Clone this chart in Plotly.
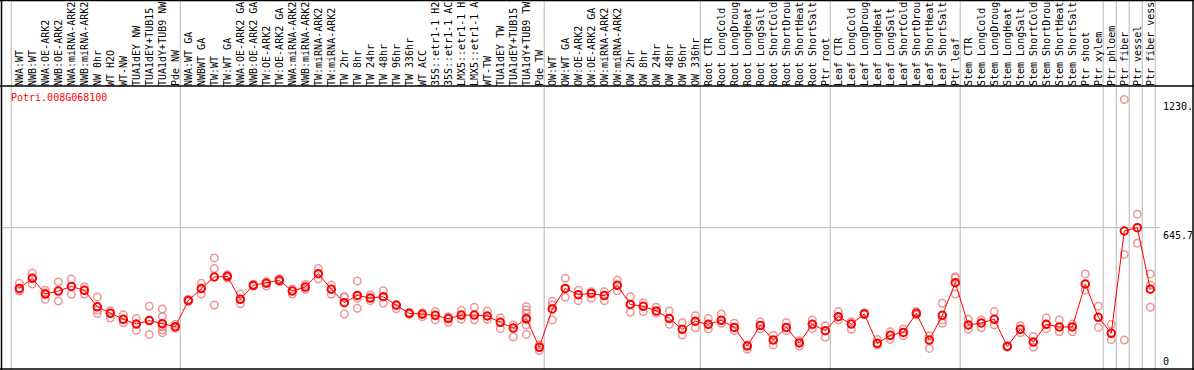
import plotly.graph_objects as go

title = "Potri.008G068100"

labels = [
    "NWA:WT", "NWB:WT", "NWA:OE-ARK2", "NWB:OE-ARK2", "NWA:miRNA-ARK2", "NWB:miRNA-ARK2",
    "NW 0hr", "WT H2O", "WT-NW", "TUA1dEY NW", "TUA1dEY+TUB15 NW", "TUA1dY+TUB9 NW", "Pde NW",
    "NWA:WT GA", "NWBWT GA", "TW:WT", "TW:WT GA", "NWA:OE-ARK2 GA", "NWB:OE-ARK2 GA",
    "TW:OE-ARK2", "TW:OE-ARK2 GA", "NWA:miRNA-ARK2", "NWB:miRNA-ARK2", "TW:miRNA-ARK2",
    "TW:miRNA-ARK2", "TW 2hr", "TW 8hr", "TW 24hr", "TW 48hr", "TW 96hr", "TW 336hr", "WT ACC",
    "35S::etr1-1 H2O", "35S::etr1-1 ACC", "LMX5::etr1-1 H2O", "LMX5::etr1-1 ACC", "WT-TW",
    "TUA1dEY TW", "TUA1dEY+TUB15 TW", "TUA1dY+TUB9 TW", "Pde TW",
    "OW:WT", "OW:WT GA", "OW:OE-ARK2", "OW:OE-ARK2 GA", "OW:miRNA-ARK2", "OW:miRNA-ARK2",
    "OW 2hr", "OW 8hr", "OW 24hr", "OW 48hr", "OW 96hr", "OW 336hr",
    "Root CTR", "Root LongCold", "Root LongDrought", "Root LongHeat", "Root LongSalt",
    "Root ShortCold", "Root ShortDrought", "Root ShortHeat", "Root ShortSalt", "Ptr root",
    "Leaf CTR", "Leaf LongCold", "Leaf LongDrought", "Leaf LongHeat", "Leaf LongSalt",
    "Leaf ShortCold", "Leaf ShortDrought", "Leaf ShortHeat", "Leaf ShortSalt", "Ptr leaf",
    "Stem CTR", "Stem LongCold", "Stem LongDrought", "Stem LongHeat", "Stem LongSalt",
    "Stem ShortCold", "Stem ShortDrought", "Stem ShortHeat", "Stem ShortSalt", "Ptr shoot",
    "Ptr xylem", "Ptr phloem", "Ptr fiber", "Ptr vessel", "Ptr fiber vessel",
]

means = [
    368, 414, 342, 356, 377, 359, 284, 254, 227, 205, 221, 207, 193,
    313, 367, 420, 423, 318, 382, 392, 405, 356, 374, 435, 364, 303, 336, 324, 330, 291,
    254, 250, 245, 230, 246, 246, 242, 213, 187, 230, 99,
    274, 368, 339, 345, 335, 382, 295, 286, 265, 231, 181, 218,
    204, 222, 190, 105, 199, 132, 190, 119, 204, 175,
    239, 205, 251, 117, 154, 167, 254, 132, 245, 394,
    201, 210, 227, 103, 181, 123, 204, 192, 192, 388, 236,
    163, 630, 645, 364,
]

replicates = [
    [391, 356, 358], [438, 388, 416], [360, 318, 348], [397, 310], [411, 341], [376, 342],
    [329, 269, 254], [266, 233], [248, 211], [230, 177], [286, 221, 158],
    [274, 239, 209, 193, 178, 166], [204, 186],
    [318, 308], [391, 342], [507, 459, 292], [430, 415], [342, 298], [386, 378], [398, 379],
    [412, 398], [365, 342], [386, 364], [459, 412], [383, 341], [327, 330, 251],
    [402, 323, 277], [338, 312], [357, 300], [295, 275], [258, 250], [257, 239], [263, 224],
    [239, 213], [268, 227], [282, 225], [265, 227], [234, 184], [201, 147],
    [284, 269, 254, 224, 201, 158], [110, 84],
    [309, 292, 224], [414, 327], [360, 312], [353, 323], [353, 312], [406, 357], [330, 259],
    [303, 262], [282, 257], [265, 204], [211, 155], [243, 188],
    [230, 183], [251, 209], [209, 175], [110, 90], [214, 184], [154, 110], [211, 175],
    [129, 105], [224, 184], [198, 145],
    [262, 224], [216, 181], [257, 250], [135, 110], [170, 135], [183, 152], [262, 246],
    [151, 94], [300, 224, 209], [421, 415, 342],
    [227, 181], [224, 188], [262, 201], [106, 100], [198, 166], [147, 99], [233, 184],
    [224, 170], [205, 170], [434, 360], [287, 190],
    [204, 134], [1230.4, 523, 132], [707, 574], [434, 383, 282],
]

group_last = [12, 40, 52, 62, 72, 83, 84, 85, 86, 87]
y_ticks = [0, 645.7, 1230.4]
y_tick_text = ["0", "645.7", "1230."]

# geometry
W, H = 1194, 370
L, R, T, B = 1, 1193, 86, 369
ymax = 1230.4 * 1.05
x0_px, step_px = 19.3, 13.0
xr = [(L - x0_px) / step_px, (R - x0_px) / step_px]


def px(x):
    return (x - L) / (R - L)


def py(y):
    return (B - y) / (B - T)


xs = list(range(len(labels)))
rx, ry = [], []
for i, reps in enumerate(replicates):
    for v in reps:
        rx.append(i)
        ry.append(v)

fig = go.Figure()
fig.add_trace(go.Scatter(
    x=rx, y=ry, mode="markers",
    marker=dict(symbol="circle-open", size=7.5, color="rgba(236,130,130,0.85)",
                line=dict(width=1.5, color="rgba(236,130,130,0.85)")),
    hoverinfo="skip", showlegend=False,
))
fig.add_trace(go.Scatter(
    x=xs, y=means, mode="lines+markers",
    line=dict(color="#ff0000", width=1),
    marker=dict(symbol="circle-open", size=7.5, color="#ff0000",
                line=dict(width=2, color="#ee0000")),
    showlegend=False,
))

shapes = []
grid_col = "#c4c4c4"
vlines = [-0.62] + [g + 0.38 for g in group_last]
for gx in vlines:
    shapes.append(dict(type="line", xref="x", yref="paper", x0=gx, x1=gx,
                       y0=-0.01, y1=py(-2), line=dict(color=grid_col, width=1.2), layer="below"))
shapes.append(dict(type="line", xref="x", yref="y", x0=xr[0], x1=(1160 - x0_px) / step_px,
                   y0=645.7, y1=645.7, line=dict(color=grid_col, width=1.2), layer="below"))
# frame
blk = dict(color="black", width=1.5)
shapes += [
    dict(type="line", xref="paper", yref="paper", x0=px(0), x1=px(W), y0=py(0.5), y1=py(0.5), line=blk),
    dict(type="line", xref="paper", yref="paper", x0=px(0), x1=px(W), y0=py(86), y1=py(86), line=blk),
    dict(type="line", xref="paper", yref="paper", x0=px(0), x1=px(W), y0=py(369), y1=py(369), line=blk),
    dict(type="line", xref="paper", yref="paper", x0=px(1.5), x1=px(1.5), y0=py(0), y1=py(370), line=blk),
    dict(type="line", xref="paper", yref="paper", x0=px(1193), x1=px(1193), y0=py(0), y1=py(370), line=blk),
]

mono = "DejaVu Sans Mono"
annotations = [
    dict(text=title, xref="paper", yref="paper", x=px(9), y=py(97), xanchor="left",
         yanchor="middle", showarrow=False, font=dict(family=mono, size=10, color="#ff0000")),
]
for v, t in zip(y_ticks, y_tick_text):
    annotations.append(dict(
        text=t, xref="paper", yref="y", x=px(1161), y=v, xanchor="left",
        yanchor="bottom" if v == 0 else "top", showarrow=False,
        font=dict(family=mono, size=10, color="black"),
    ))

fig.update_layout(
    width=W, height=H,
    margin=dict(l=L, r=W - R, t=T, b=H - B, pad=0),
    paper_bgcolor="white", plot_bgcolor="white",
    shapes=shapes, annotations=annotations,
    xaxis=dict(range=xr, side="top", tickmode="array", tickvals=xs, ticktext=labels,
               tickangle=-90, ticks="", showgrid=False, zeroline=False, showline=False,
               ticklabelstandoff=-1,
               tickfont=dict(family=mono, size=10, color="black"), automargin=False),
    yaxis=dict(range=[0, ymax], showgrid=False, zeroline=False, showline=False,
               showticklabels=False, ticks="", automargin=False),
)

fig.write_html("out.html", config={"displayModeBar": False},
               post_script="document.body.style.margin='0';document.body.style.overflow='hidden';")
